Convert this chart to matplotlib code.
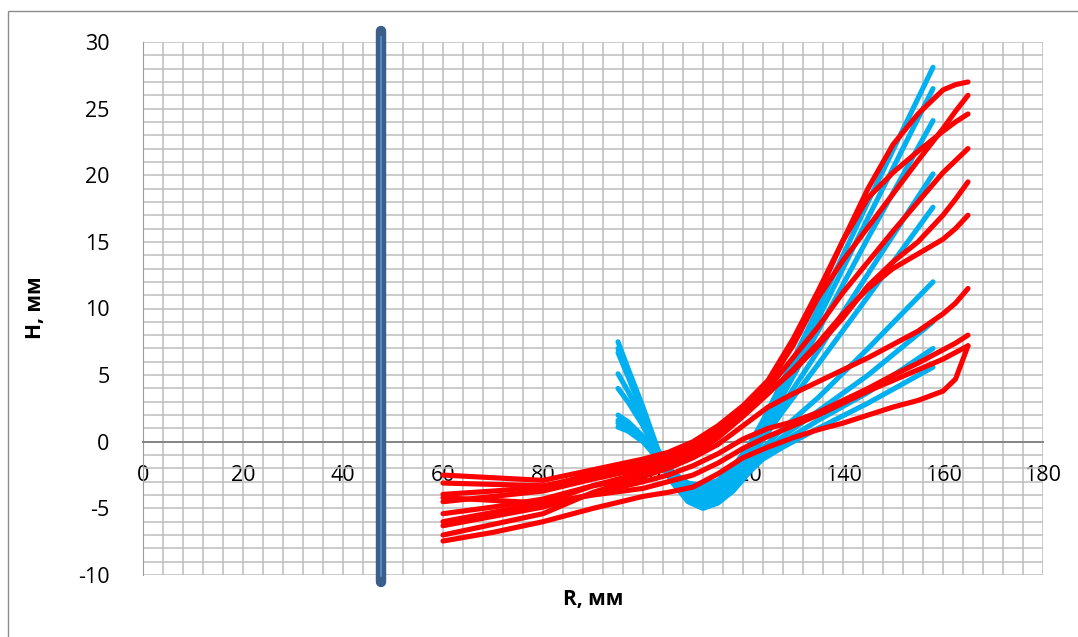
import numpy as np
import matplotlib
matplotlib.use("Agg")
import matplotlib.pyplot as plt

plt.rcParams["font.family"] = ["Open Sans", "DejaVu Sans"]
plt.rcParams["axes.unicode_minus"] = False

C_BLUE = "#00b0f0"
C_RED = "#ff0000"
C_BAR = "#3a5f8b"
C_BAR_HI = "#5b8cc8"

# blue family: common R nodes, one H list per curve
blue_r = [95, 97, 100, 103, 106, 109, 112, 115, 118, 121, 124, 128, 135, 145, 158]
blue_1 = [7.5, 5.5, 2.6, -0.6, -2.3, -3.1, -3.3, -2.9, -1.9, -0.4, 1.6, 4.6, 10.0, 18.0, 28.1]
blue_2 = [7.0, 5.1, 2.3, -0.7, -2.4, -3.3, -3.6, -3.2, -2.2, -0.7, 1.2, 4.0, 9.2, 16.8, 26.5]
blue_3 = [6.7, 4.9, 2.1, -0.8, -2.6, -3.6, -3.9, -3.5, -2.5, -1.0, 0.9, 3.5, 8.3, 15.3, 24.1]
blue_4 = [5.1, 3.8, 1.6, -0.9, -2.8, -3.9, -4.2, -3.8, -2.8, -1.3, 0.5, 2.8, 6.8, 12.6, 20.1]
blue_5 = [4.0, 3.0, 1.2, -1.0, -2.9, -4.1, -4.5, -4.1, -3.1, -1.6, 0.2, 2.3, 5.8, 10.9, 17.6]
blue_6 = [2.0, 1.5, 0.4, -1.1, -3.0, -4.3, -4.7, -4.3, -3.3, -1.9, -0.5, 1.0, 3.3, 7.0, 12.0]
blue_7 = [1.6, 1.2, 0.2, -1.2, -3.1, -4.4, -4.9, -4.5, -3.5, -2.2, -0.9, 0.4, 2.3, 5.0, 9.0]
blue_8 = [1.1, 0.8, 0.0, -1.3, -3.1, -4.5, -5.0, -4.6, -3.7, -2.4, -1.2, 0.0, 1.6, 3.7, 7.0]
blue_9 = [1.4, 1.0, 0.1, -1.2, -2.9, -4.2, -4.7, -4.4, -3.5, -2.3, -1.3, -0.4, 1.0, 2.9, 5.6]
blue_h = [blue_1, blue_2, blue_3, blue_4, blue_5, blue_6, blue_7, blue_8, blue_9]

# red family
red_r = [60, 70, 80, 90, 100, 105, 110, 115, 120, 125, 130, 135, 140, 145, 150, 155, 160, 162.5, 165]
red_1 = [-2.5, -2.7, -2.9, -2.1, -1.3, -0.8, 0.0, 1.2, 2.7, 4.6, 7.7, 11.3, 15.1, 19.0, 22.3, 24.6, 26.4, 26.8, 27.0]
red_2 = [-3.95, -3.7, -3.4, -2.4, -1.5, -1.0, -0.3, 1.0, 2.5, 4.4, 7.2, 10.8, 13.6, 16.1, 18.6, 21.1, 23.5, 24.8, 26.0]
red_3 = [-3.1, -3.2, -3.3, -2.6, -1.8, -1.2, -0.5, 0.8, 2.3, 4.1, 7.4, 11.0, 15.1, 18.3, 20.2, 21.8, 23.3, 24.0, 24.6]
red_4 = [-4.5, -4.1, -3.7, -2.8, -2.0, -1.4, -0.6, 0.6, 2.0, 4.0, 6.3, 8.6, 11.2, 13.5, 15.8, 18.0, 20.2, 21.1, 22.0]
red_5 = [-6.0, -5.3, -4.6, -3.3, -2.3, -1.7, -0.8, 0.5, 2.0, 3.7, 5.3, 7.2, 9.3, 11.7, 13.5, 15.0, 17.0, 18.2, 19.5]
red_6 = [-7.0, -6.2, -5.4, -3.8, -2.6, -1.9, -1.0, 0.3, 1.9, 3.6, 5.4, 7.4, 9.6, 11.5, 13.0, 14.1, 15.2, 16.0, 17.0]
red_7 = [-5.4, -4.9, -4.3, -3.3, -2.6, -2.0, -1.2, -0.2, 1.2, 2.6, 3.6, 4.5, 5.4, 6.3, 7.3, 8.3, 9.6, 10.4, 11.5]
red_8 = [-6.3, -5.6, -4.9, -3.9, -3.0, -2.5, -1.8, -0.9, 0.2, 1.0, 1.5, 2.2, 3.1, 4.0, 5.0, 5.9, 6.9, 7.4, 8.0]
red_9 = [-4.2, -4.4, -4.6, -4.0, -3.5, -3.0, -2.5, -1.6, -0.5, 0.4, 1.2, 2.0, 2.9, 3.8, 4.6, 5.4, 6.2, 6.7, 7.2]
red_10 = [-7.45, -6.8, -6.0, -5.0, -4.1, -3.8, -3.4, -2.4, -1.2, -0.4, 0.3, 0.9, 1.4, 2.0, 2.6, 3.1, 3.8, 4.7, 7.2]
red_h = [red_1, red_2, red_3, red_4, red_5, red_6, red_7, red_8, red_9, red_10]

# thick vertical marker
bar_r = 47.5
bar_h = [-10.5, 30.8]

x_ticks = list(range(0, 181, 20))
y_ticks = list(range(-10, 31, 5))

fig = plt.figure(figsize=(10.78, 6.37), dpi=100)
ax = fig.add_axes([143 / 1078, 1 - 575 / 637, 900 / 1078, 533 / 637])

# figure frame
fig.add_artist(plt.Rectangle((8 / 1078, -0.1), 1.2, 1.1 - 11 / 637,
                             transform=fig.transFigure, fill=False,
                             edgecolor="#8c8c8c", lw=1.0))

ax.set_xlim(0, 180)
ax.set_ylim(-10, 30)
ax.set_xticks(x_ticks)
ax.set_yticks(y_ticks)
ax.set_xticks(np.arange(0, 181, 4), minor=True)
ax.set_yticks(np.arange(-10, 31, 1), minor=True)
ax.grid(which="both", color="#bdbdbd", lw=1.1, zorder=0)
ax.set_axisbelow(True)
ax.tick_params(which="both", length=0)
ax.tick_params(axis="x", pad=17, labelsize=15.5)
ax.tick_params(axis="y", pad=24, labelsize=15.5)
for s in ("top", "right"):
    ax.spines[s].set_visible(False)
ax.spines["left"].set_color("#9a9a9a")
ax.spines["bottom"].set_position(("data", 0))
ax.spines["bottom"].set_color("#868686")
ax.spines["bottom"].set_linewidth(1.4)

for h in blue_h:
    ax.plot(blue_r, h, color=C_BLUE, lw=3.7, solid_capstyle="round",
            solid_joinstyle="round", zorder=3)
for h in red_h:
    ax.plot(red_r, h, color=C_RED, lw=3.7, solid_capstyle="round",
            solid_joinstyle="round", zorder=4)

ax.plot([bar_r, bar_r], bar_h, color=C_BAR, lw=7.5, solid_capstyle="round",
        zorder=5, clip_on=False)
ax.plot([bar_r, bar_r], [bar_h[0] + 0.4, bar_h[1] - 0.4], color=C_BAR_HI, lw=1.3,
        zorder=6, clip_on=False)

fig.text(593 / 1078, 1 - 600 / 637, "R, мм", ha="center", va="center",
         fontsize=15, fontweight="bold")
fig.text(35 / 1078, 1 - 308 / 637, "H, мм", ha="center", va="center",
         fontsize=15, fontweight="bold", rotation=90)

fig.savefig("out.png", dpi=100)
